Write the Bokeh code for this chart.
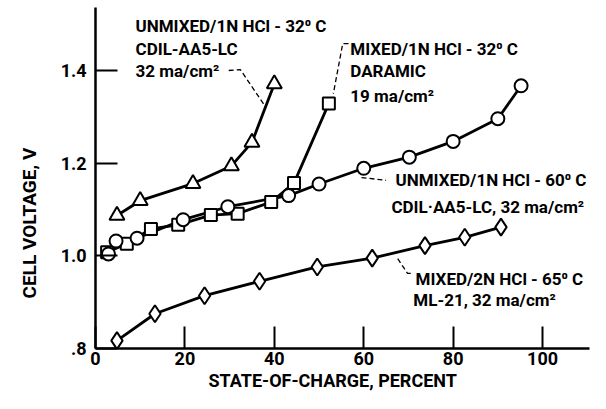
from bokeh.plotting import figure
from bokeh.models import Range1d, FixedTicker, Label, Title
from bokeh.core.properties import value
from bokeh.embed import file_html
from bokeh.resources import INLINE

FONT = "Roboto"

# ---- data ----
tri_x = [4.8, 10.0, 21.8, 30.4, 35.0, 40.0]
tri_y = [1.087, 1.119, 1.156, 1.194, 1.245, 1.371]

sq_x = [2.6, 7.0, 12.4, 18.5, 25.8, 31.8, 39.3, 44.4, 52.2]
sq_y = [1.008, 1.026, 1.058, 1.067, 1.088, 1.091, 1.116, 1.157, 1.329]

circ_x = [2.9, 4.6, 9.3, 19.6, 29.6, 43.2, 50.0, 60.0, 70.2, 80.0, 90.0, 95.2]
circ_y = [1.004, 1.032, 1.038, 1.078, 1.106, 1.130, 1.155, 1.189, 1.213, 1.247, 1.296, 1.367]

dia_x = [4.8, 13.3, 24.4, 36.7, 49.6, 61.9, 73.7, 82.6, 90.7]
dia_y = [0.817, 0.875, 0.914, 0.945, 0.976, 0.995, 1.022, 1.040, 1.062]

x_ticks = [0, 20, 40, 60, 80, 100]
y_ticks = [0.8, 1.0, 1.2, 1.4]
y_tick_labels = [".8", "1.0", "1.2", "1.4"]

x_title = "STATE-OF-CHARGE, PERCENT"
y_title = "CELL VOLTAGE, V"

notes = [
    ("UNMIXED/1N HCl - 32\u2070 C", 8.95, 1.497),
    ("CDIL-AA5-LC", 8.95, 1.447),
    ("32 ma/cm\u00b2", 8.95, 1.398),
    ("MIXED/1N HCl - 32\u2070 C", 57.0, 1.447),
    ("DARAMIC", 57.0, 1.398),
    ("19 ma/cm\u00b2", 57.0, 1.346),
    ("UNMIXED/1N HCl - 60\u2070 C", 67.1, 1.163),
    ("CDIL\u00b7AA5-LC, 32 ma/cm\u00b2", 66.2, 1.106),
    ("MIXED/2N HCl - 65\u2070 C", 71.6, 0.951),
    ("ML-21, 32 ma/cm\u00b2", 71.1, 0.904),
]

leaders = [
    ([29.8, 32.4, 38.0], [1.400, 1.402, 1.322]),
    ([56.6, 55.3, 53.2], [1.458, 1.458, 1.350]),
    ([59.5, 65.0], [1.169, 1.163]),
    ([67.6, 69.8, 70.7], [0.994, 0.962, 0.962]),
]

p = figure(width=590, height=393, output_backend="svg", toolbar_location=None,
           x_range=Range1d(0, 110.5), y_range=Range1d(0.8, 1.536),
           min_border_left=95, min_border_right=1, min_border_top=7, min_border_bottom=45)
p.outline_line_color = None
p.xgrid.visible = False
p.ygrid.visible = False
p.background_fill_color = "white"
p.border_fill_color = "white"

for ax in (p.xaxis[0], p.yaxis[0]):
    ax.axis_line_width = 2.5
    ax.axis_line_color = "black"
    ax.major_tick_line_width = 2
    ax.major_tick_line_color = "black"
    ax.major_tick_in = 22
    ax.major_tick_out = 0
    ax.minor_tick_line_color = None
    ax.major_label_text_font = FONT
    ax.major_label_text_font_style = "bold"
    ax.major_label_text_font_size = "18px"
    ax.major_label_text_color = "black"

p.xaxis.ticker = FixedTicker(ticks=x_ticks)
p.yaxis.ticker = FixedTicker(ticks=y_ticks)
p.yaxis.major_label_overrides = {t: l for t, l in zip(y_ticks, y_tick_labels)}
p.xaxis.major_label_standoff = 3
p.yaxis.major_label_standoff = 9

# curves
LW = 2.8
p.line(tri_x, tri_y, line_color="black", line_width=LW)
p.line(sq_x, sq_y, line_color="black", line_width=LW)
p.line(circ_x, circ_y, line_color="black", line_width=LW)
p.line(dia_x, dia_y, line_color="black", line_width=LW)

p.scatter(tri_x, tri_y, marker="triangle", size=15, fill_color="white", line_color="black", line_width=2)
p.scatter(sq_x, sq_y, marker="square", size=12, fill_color="white", line_color="black", line_width=2)
p.scatter(circ_x, circ_y, marker="circle", size=13, fill_color="white", line_color="black", line_width=2)
p.scatter(dia_x, dia_y, marker="diamond", size=17, fill_color="white", line_color="black", line_width=2)

for lx, ly in leaders:
    p.line(lx, ly, line_color="black", line_width=1.3, line_dash="5 3")

for txt, tx, ty in notes:
    p.add_layout(Label(x=tx, y=ty, text=txt, text_font=FONT, text_font_style="bold",
                       text_font_size="17px", text_baseline="middle", text_align="left",
                       text_color="black"))

p.add_layout(Title(text=x_title, align="left", offset=113, standoff=0,
                   text_font=FONT, text_font_style="bold", text_font_size="18px",
                   text_color="black", vertical_align="bottom"), "below")
p.add_layout(Title(text=y_title, align="left", offset=50, standoff=30,
                   text_font=FONT, text_font_style="bold", text_font_size="19px",
                   text_color="black", vertical_align="top"), "left")

open("out.html", "w").write(file_html(p, INLINE))
